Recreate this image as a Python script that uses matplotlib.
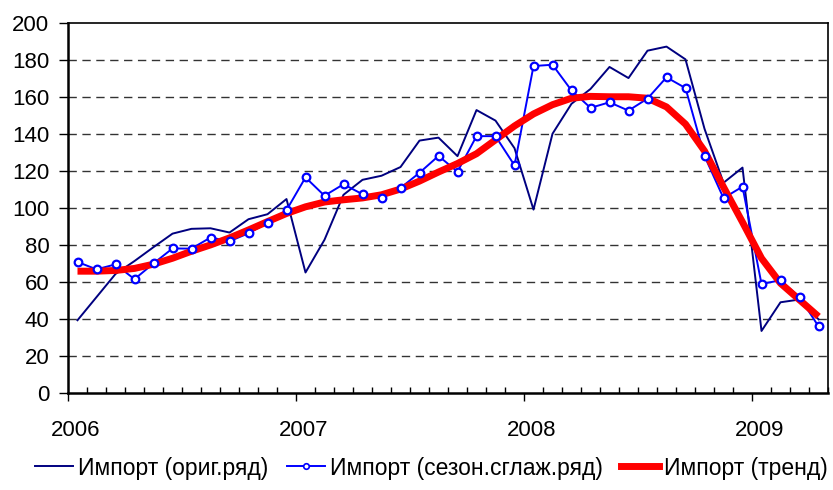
import matplotlib
matplotlib.use("Agg")
import matplotlib.pyplot as plt
from matplotlib.lines import Line2D
from matplotlib.ticker import MultipleLocator, FixedLocator
import matplotlib.transforms as mtransforms
import numpy as np

plt.rcParams['font.family'] = ['Liberation Sans', 'DejaVu Sans']

years = ["2006", "2007", "2008", "2009"]
# monthly values, Jan 2006 .. Apr 2009
orig = [39.5, 52, 64.5, 71.5, 79, 86.3, 88.9, 89.2, 86.9, 94.1, 96.8, 105,
        65.3, 83, 107.3, 115.4, 117.6, 122.3, 136.6, 138.2, 128.2, 153.1, 147.4, 132.5,
        99.3, 140.3, 156.5, 164.5, 176.4, 170.4, 185.2, 187.4, 180.5, 143, 113.8, 122,
        33.7, 49.2, 50.7, 40]
seas = [71.0, 67.0, 69.7, 61.7, 70.2, 78.3, 78.2, 84.2, 82.2, 86.5, 92.1, 99.0,
        116.7, 106.8, 113.0, 107.6, 105.4, 111.0, 119.2, 128.3, 119.8, 139.0, 139.0, 123.2,
        176.9, 177.6, 163.7, 154.3, 157.3, 152.8, 159.3, 170.8, 165.0, 128.3, 105.5, 111.7,
        59.1, 61.1, 52.0, 36.2]
trend = [66, 66, 66.4, 67.5, 69.8, 73, 76.8, 80.2, 84, 88.3, 92.8, 97.2,
         100.8, 103.4, 104.6, 105.6, 107.3, 110.4, 114.7, 119.6, 124.2, 129.5, 137, 144.5,
         151, 156, 159.5, 160.5, 160.3, 160.3, 159.5, 154.8, 145.5, 131, 111.5, 92.5,
         73, 59.5, 50.5, 41.5]
labels = ["Импорт (ориг.ряд)", "Импорт (сезон.сглаж.ряд)", "Импорт (тренд)"]

n = len(orig)
x = np.arange(n) + 0.5

fig = plt.figure(figsize=(8.33, 4.90), dpi=100)
ax = fig.add_axes([68/833, 1-393.3/490, 760/833, 370/490])

ax.set_xlim(0, n)
ax.set_ylim(0, 200)

for v in range(20, 200, 20):
    ax.axhline(v, color='#333333', lw=1.0, ls=(0, (6, 4)), zorder=1)

c_orig = '#000080'
c_seas = '#0000FF'
c_tr = '#FF0000'
ax.plot(x, orig, color=c_orig, lw=1.4, zorder=2)
ax.plot(x, seas, color=c_seas, lw=1.4, zorder=3)
ax.plot(x, trend, color=c_tr, lw=5, zorder=4, solid_capstyle='butt')
ax.plot(x, seas, ls='none', marker='o', ms=5.5, mfc='white', mec=c_seas, mew=1.6, zorder=5)

ax.yaxis.set_major_locator(MultipleLocator(20))
ax.tick_params(axis='y', direction='out', length=6.5, width=1, labelsize=16, pad=7)
ax.xaxis.set_major_locator(FixedLocator([0, 12, 24, 36]))
ax.set_xticklabels(years)
ax.xaxis.set_minor_locator(FixedLocator([i for i in range(1, n + 1) if i % 12 != 0]))
ax.tick_params(axis='x', which='major', direction='out', length=6, width=1, labelsize=16, pad=13)
ax.tick_params(axis='x', which='minor', direction='in', length=4, width=1)
shift = mtransforms.ScaledTranslation(8/100, 0, fig.dpi_scale_trans)
for lbl in ax.get_xticklabels():
    lbl.set_transform(lbl.get_transform() + shift)
for s in ax.spines.values():
    s.set_linewidth(1.2)
    s.set_color('black')
for s in ['left', 'bottom']:
    ax.spines[s].set_linewidth(1.8)

handles = [Line2D([], [], color=c_orig, lw=1.4),
           Line2D([], [], color=c_seas, lw=1.4, marker='o', ms=4, mfc='white', mec=c_seas, mew=1.2),
           Line2D([], [], color=c_tr, lw=5)]
fig.legend(handles, labels, loc='center', bbox_to_anchor=(0.518, 1-468/490), ncol=3,
           frameon=False, fontsize=16.5, handlelength=1.66, handletextpad=0.22, columnspacing=0.8,
           borderaxespad=0, borderpad=0)

fig.savefig("out.png", dpi=100)
